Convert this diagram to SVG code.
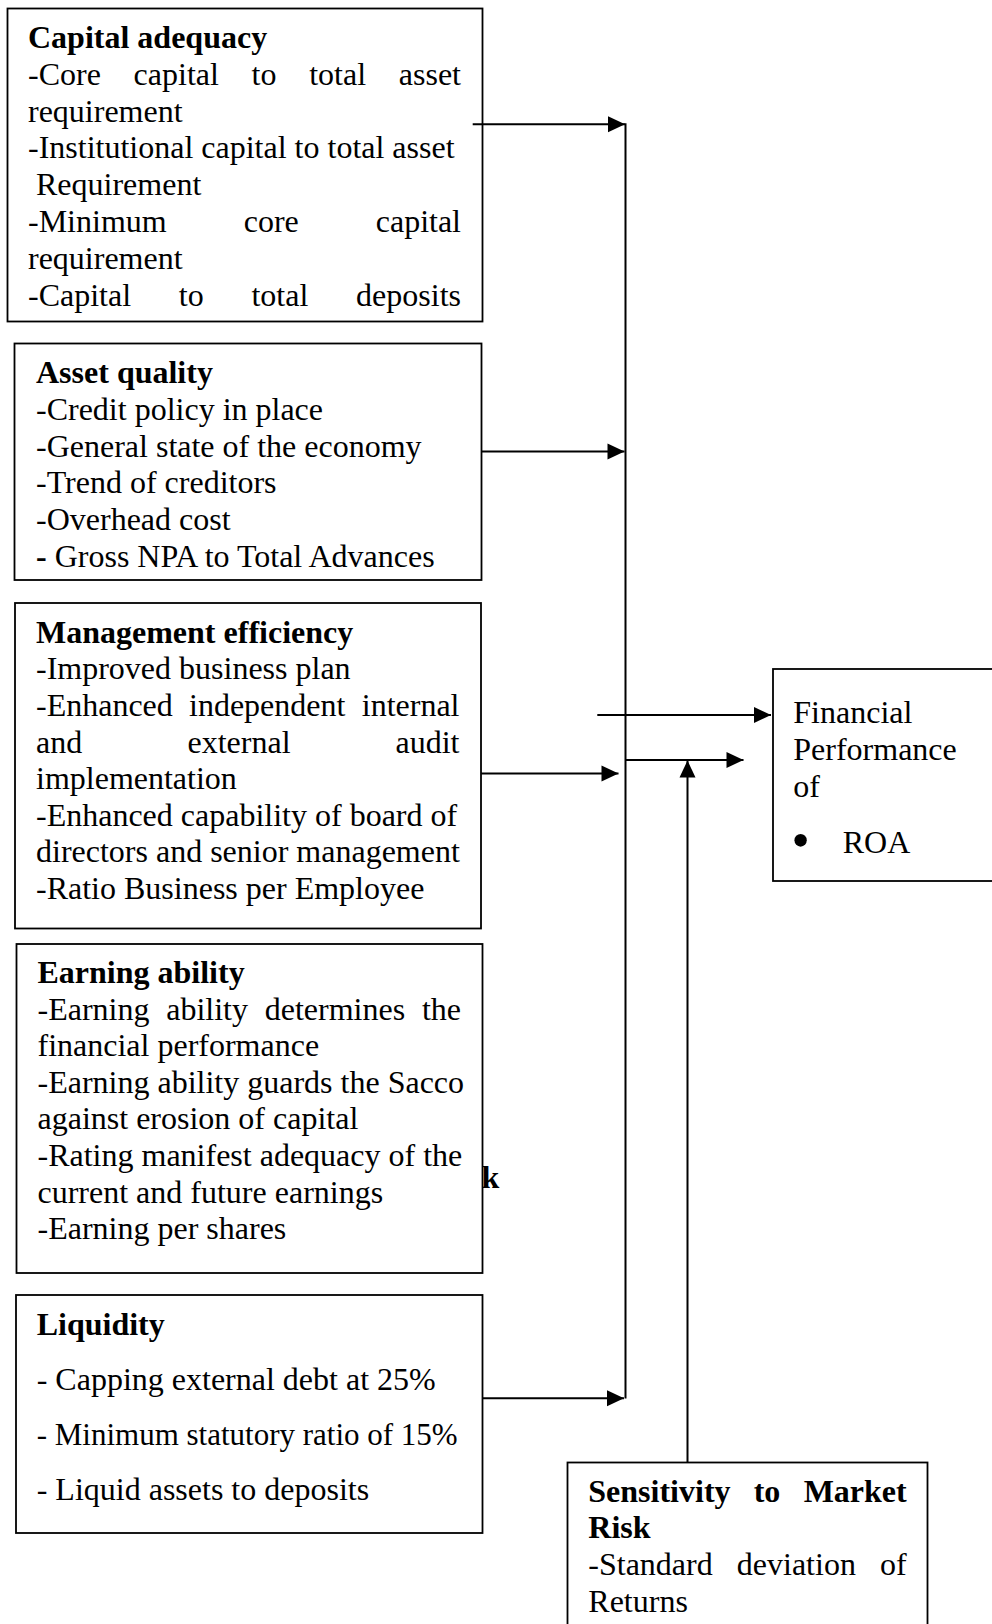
<svg xmlns="http://www.w3.org/2000/svg" width="992" height="1624" viewBox="0 0 992 1624">
<style>
  text { font-family: "Liberation Serif", "Times New Roman", serif; font-size: 32px; fill: #000; }
  .b { font-weight: bold; }
  .box { fill: #fff; stroke: #000; stroke-width: 1.8; }
  .ln { fill: none; stroke: #000; stroke-width: 2; }
</style>
<defs>
  <marker id="arr" markerUnits="userSpaceOnUse" markerWidth="17" markerHeight="17" refX="17" refY="8.5" orient="auto" overflow="visible">
    <path d="M0,0.5 L17,8.5 L0,16.5 z" fill="#000"/>
  </marker>
</defs>
<rect width="992" height="1624" fill="#fff"/>

<g id="stray-k">
  <text class="b" x="481.5" y="1188">k</text>
</g>

<g id="capital-adequacy">
  <rect class="box" x="7.5" y="8.5" width="475" height="313"/>
  <text class="b" x="28" y="48">Capital adequacy</text>
  <text y="84.8"><tspan x="28">-Core</tspan><tspan x="133.6">capital</tspan><tspan x="251.6">to</tspan><tspan x="309.2">total</tspan><tspan x="461" text-anchor="end">asset</tspan></text>
  <text x="28" y="121.6">requirement</text>
  <text x="28" y="158.4">-Institutional capital to total asset</text>
  <text x="36" y="195.2">Requirement</text>
  <text y="232"><tspan x="28">-Minimum</tspan><tspan x="243.7">core</tspan><tspan x="461" text-anchor="end">capital</tspan></text>
  <text x="28" y="268.8">requirement</text>
  <text y="305.6"><tspan x="28">-Capital</tspan><tspan x="178.8">to</tspan><tspan x="251.4">total</tspan><tspan x="461" text-anchor="end">deposits</tspan></text>
</g>

<g id="asset-quality">
  <rect class="box" x="14.5" y="343.5" width="467" height="236.5"/>
  <text class="b" x="36" y="383.3">Asset quality</text>
  <text x="36" y="420">-Credit policy in place</text>
  <text x="36" y="456.7">-General state of the economy</text>
  <text x="36" y="493.3">-Trend of creditors</text>
  <text x="36" y="530">-Overhead cost</text>
  <text x="36" y="566.7"><tspan class="b">-</tspan> Gross NPA to Total Advances</text>
</g>

<g id="management-efficiency">
  <rect class="box" x="15" y="603" width="466" height="325.5"/>
  <text class="b" x="36" y="642.7">Management efficiency</text>
  <text x="36" y="679.3">-Improved business plan</text>
  <text y="715.9"><tspan x="36">-Enhanced</tspan><tspan x="189">independent</tspan><tspan x="459.5" text-anchor="end">internal</tspan></text>
  <text y="752.5"><tspan x="36">and</tspan><tspan x="187.5">external</tspan><tspan x="459.5" text-anchor="end">audit</tspan></text>
  <text x="36" y="789.1">implementation</text>
  <text x="36" y="825.7">-Enhanced capability of board of</text>
  <text x="36" y="862.3">directors and senior management</text>
  <text x="36" y="898.9">-Ratio Business per Employee</text>
</g>

<g id="earning-ability">
  <rect class="box" x="16.5" y="944" width="466" height="329"/>
  <text class="b" x="37.5" y="983">Earning ability</text>
  <text y="1019.6"><tspan x="37.5">-Earning</tspan><tspan x="166.2">ability</tspan><tspan x="264.7">determines</tspan><tspan x="461" text-anchor="end">the</tspan></text>
  <text x="37.5" y="1056.2">financial performance</text>
  <text x="37.5" y="1092.8">-Earning ability guards the Sacco</text>
  <text x="37.5" y="1129.4">against erosion of capital</text>
  <text x="37.5" y="1166">-Rating manifest adequacy of the</text>
  <text x="37.5" y="1202.6">current and future earnings</text>
  <text x="37.5" y="1239.2">-Earning per shares</text>
</g>

<g id="liquidity">
  <rect class="box" x="16" y="1295" width="466.5" height="238"/>
  <text class="b" x="36.7" y="1335">Liquidity</text>
  <text x="36.7" y="1390">- Capping external debt at 25%</text>
  <text x="36.7" y="1445" textLength="421" lengthAdjust="spacingAndGlyphs">- Minimum statutory ratio of 15%</text>
  <text x="36.7" y="1500">- Liquid assets to deposits</text>
</g>

<g id="financial-performance">
  <rect class="box" x="773" y="669" width="240" height="212"/>
  <text x="793.3" y="723.3">Financial</text>
  <text x="793.3" y="760">Performance</text>
  <text x="793.3" y="796.7">of</text>
  <text x="800.7" y="858" text-anchor="middle" style="font-size:52px">•</text>
  <text x="842.7" y="853.3">ROA</text>
</g>

<g id="sensitivity-market-risk">
  <rect class="box" x="567.5" y="1462.5" width="360" height="180"/>
  <text class="b" y="1501.7"><tspan x="588.3">Sensitivity</tspan><tspan x="753.7">to</tspan><tspan x="906.7" text-anchor="end">Market</tspan></text>
  <text class="b" x="588.3" y="1538.3">Risk</text>
  <text y="1575"><tspan x="588.3">-Standard</tspan><tspan x="736.8">deviation</tspan><tspan x="906.7" text-anchor="end">of</tspan></text>
  <text x="588.3" y="1611.7">Returns</text>
</g>

<g id="connectors">
  <line class="ln" x1="625.5" y1="123.3" x2="625.5" y2="1398.5"/>
  <line class="ln" x1="472.7" y1="124.3" x2="625" y2="124.3" marker-end="url(#arr)"/>
  <line class="ln" x1="482" y1="451.6" x2="624.5" y2="451.6" marker-end="url(#arr)"/>
  <line class="ln" x1="481" y1="773.5" x2="618.5" y2="773.5" marker-end="url(#arr)"/>
  <line class="ln" x1="482.5" y1="1398.3" x2="624" y2="1398.3" marker-end="url(#arr)"/>
  <line class="ln" x1="597.3" y1="715" x2="771" y2="715" marker-end="url(#arr)"/>
  <line class="ln" x1="625.5" y1="760" x2="743.5" y2="760" marker-end="url(#arr)"/>
  <line class="ln" x1="687.5" y1="1462.3" x2="687.5" y2="760.5" marker-end="url(#arr)"/>
</g>
</svg>
